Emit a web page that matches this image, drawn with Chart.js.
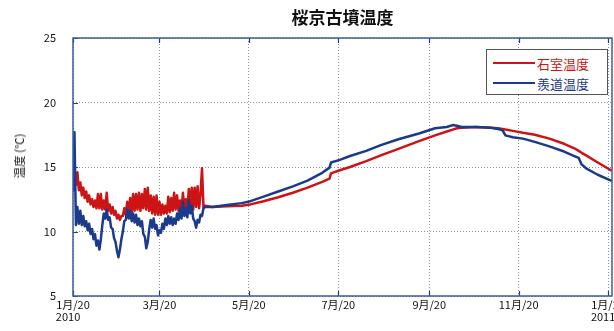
<!DOCTYPE html>
<html>
<head>
<meta charset="utf-8">
<script src="https://cdn.jsdelivr.net/npm/chart.js@4.4.1/dist/chart.umd.min.js"></script>
<style>
  html, body { margin: 0; padding: 0; background: #fff; }
  #wrap { position: relative; width: 614px; height: 331px; overflow: hidden; }
  canvas { display: block; }
  #ylabel {
    position: absolute; left: 19px; top: 156px;
    transform: translate(-50%, -50%) rotate(-90deg);
    font: 11.5px "Noto Sans CJK JP"; color: #111; white-space: nowrap;
  }
  #legend {
    position: absolute; left: 486px; top: 49px; width: 120px; height: 44px;
    border: 1px solid #555; background: #fff; font: 13px "Noto Sans CJK JP";
  }
  #legend .row { position: absolute; left: 6px; height: 16px; display: flex; align-items: center; }
  #legend .sw { width: 42px; height: 2px; margin-right: 2px; }
</style>
</head>
<body>
<div id="wrap">
  <canvas id="c" width="614" height="331"></canvas>
  <div id="ylabel">温度 (℃)</div>
  <div id="legend"></div>
</div>
<script>
// Daily readings, 2010-01-20 (day 0) to 2010-04-20 (day 90)
const noisyDays = [0,1,2,3,4,5,6,7,8,9,10,11,12,13,14,15,16,17,18,19,20,21,22,23,24,25,26,27,28,29,
  30,31,32,33,34,35,36,37,38,39,40,41,42,43,44,45,46,47,48,49,50,51,52,53,54,55,56,57,58,59,
  60,61,62,63,64,65,66,67,68,69,70,71,72,73,74,75,76,77,78,79,80,81,82,83,84,85,86,87,88,89,90];

const chamberNoisy = [13.2,14.9,13.6,14.6,13.2,13.8,12.8,13.4,12.6,13.1,12.3,12.8,12.1,12.5,11.9,12.4,11.8,12.9,11.8,12.9,
  11.7,12.4,11.7,13.0,11.6,12.1,11.4,11.9,11.3,11.6,11.0,11.3,10.9,11.2,11.2,11.8,11.3,12.3,11.5,12.6,
  11.4,12.9,11.6,12.9,11.7,13.0,11.6,12.9,11.8,13.3,11.7,13.4,11.6,12.8,11.4,12.7,11.3,12.8,11.3,12.3,
  11.3,12.1,11.4,12.0,11.4,12.7,11.5,12.6,11.6,13.0,11.7,12.8,11.6,12.4,11.7,13.0,11.8,12.5,11.7,13.3,
  11.8,13.4,11.7,13.4,11.9,13.5,11.8,12.9,14.9,11.9,12.0];

const passageNoisy = [13.2,17.7,10.5,11.9,10.6,11.6,10.5,11.2,10.4,10.8,10.1,10.6,9.8,10.2,9.4,9.8,8.9,9.3,8.6,9.4,
  10.5,11.4,11.0,11.7,10.9,11.1,10.3,10.2,9.5,9.2,8.5,8.0,8.6,9.4,10.0,10.8,10.9,11.7,11.0,11.6,
  10.8,11.4,10.7,11.3,10.5,11.0,10.4,10.8,9.8,9.6,8.7,9.2,10.2,10.9,10.3,11.0,10.2,10.5,9.7,10.1,
  9.9,10.6,10.2,11.0,10.5,11.2,10.6,11.1,10.5,11.0,10.6,11.4,10.9,11.8,11.0,12.3,11.2,11.8,11.1,12.4,
  11.4,12.0,11.0,10.8,10.3,10.9,10.7,11.3,11.2,11.8,11.9];

// Smoothed readings from late April onward
const smoothDays = [95,105,115,121,130,140,150,160,170,175,176,182,189,200,210,222,236,247,255,259,
  262,265,275,285,290,293,295,300,307,315,325,335,342,345,347,350,358,367];

const chamberSmooth = [11.9,11.95,12.0,12.1,12.35,12.65,13.0,13.4,13.85,14.1,14.5,14.75,15.0,15.45,15.9,16.4,17.0,17.45,17.75,17.9,
  18.0,18.05,18.1,18.05,18.0,17.95,17.9,17.8,17.65,17.5,17.2,16.8,16.45,16.25,16.1,15.9,15.35,14.75];

const passageSmooth = [11.9,12.05,12.2,12.35,12.7,13.1,13.5,13.95,14.55,14.95,15.35,15.55,15.85,16.25,16.7,17.15,17.6,18.0,18.1,18.25,
  18.2,18.1,18.1,18.05,17.95,17.85,17.45,17.3,17.2,16.95,16.6,16.2,15.85,15.7,15.2,14.9,14.4,13.95];

const seriesNames = ['石室温度', '羨道温度'];
const seriesColors = ['#cc1414', '#1a3a8c'];

const tickDays = [0, 59, 120, 181, 243, 304, 365];
const tickLabels = [['1月/20', '2010\u00a0\u00a0\u00a0\u00a0'], '3月/20', '5月/20', '7月/20', '9月/20', '11月/20',
  ['1月/20', '2011\u00a0\u00a0\u00a0\u00a0']];
const yTicks = [5, 10, 15, 20, 25];

function toPoints(days, vals) {
  return days.map((d, i) => ({ x: d, y: vals[i] }));
}

const frameColor = '#3a5ca0';
const gridColor = 'rgba(110,125,160,0.85)';

// Plot frame and short inward tick marks
const framePlugin = {
  id: 'frame',
  afterDatasetsDraw(chart) {
    const { ctx, chartArea: a, scales } = chart;
    ctx.save();
    ctx.strokeStyle = '#1d3f8a';
    ctx.lineWidth = 1.2;
    ctx.beginPath();
    scales.x.ticks.forEach(t => {
      const px = Math.round(scales.x.getPixelForValue(t.value)) + 0.5;
      ctx.moveTo(px, a.top); ctx.lineTo(px, a.top + 5);
      ctx.moveTo(px, a.bottom); ctx.lineTo(px, a.bottom - 5);
    });
    scales.y.ticks.forEach(t => {
      const py = Math.round(scales.y.getPixelForValue(t.value)) + 0.5;
      ctx.moveTo(a.left, py); ctx.lineTo(a.left + 5, py);
    });
    ctx.stroke();
    ctx.strokeStyle = frameColor;
    ctx.lineWidth = 1.5;
    ctx.strokeRect(a.left, a.top, a.right - a.left, a.bottom - a.top);
    ctx.restore();
  }
};

const lineStyle = {
  borderWidth: 2.5, pointRadius: 0, tension: 0, fill: false, borderJoinStyle: 'round', borderCapStyle: 'round'
};

new Chart(document.getElementById('c'), {
  type: 'line',
  data: {
    datasets: [
      Object.assign({ label: seriesNames[0], borderColor: seriesColors[0], order: 1,
        data: toPoints(noisyDays.concat(smoothDays), chamberNoisy.concat(chamberSmooth)) }, lineStyle),
      Object.assign({ label: seriesNames[1], borderColor: seriesColors[1], order: 0,
        data: toPoints(noisyDays.concat(smoothDays), passageNoisy.concat(passageSmooth)) }, lineStyle)
    ]
  },
  options: {
    responsive: false,
    animation: false,
    layout: { padding: { left: 0, right: 2, top: 0, bottom: 0 } },
    plugins: {
      legend: { display: false },
      tooltip: { enabled: false },
      title: {
        display: true, text: '桜京古墳温度', fullSize: false, color: '#111',
        font: { family: '"Noto Sans CJK JP"', size: 17, weight: 'bold', lineHeight: 1.2 },
        padding: { top: 7, bottom: 10.6 }
      }
    },
    scales: {
      x: {
        type: 'linear', min: 0, max: 367.7,
        afterBuildTicks(axis) { axis.ticks = tickDays.map(v => ({ value: v })); },
        afterFit(axis) { axis.height = 35; axis.paddingLeft = 0; axis.paddingRight = 0; },
        ticks: {
          autoSkip: false, maxRotation: 0, minRotation: 0, padding: 3, color: '#111',
          font: { family: '"Noto Sans CJK JP"', size: 11, lineHeight: 1.05 },
          callback(v) { const i = tickDays.indexOf(v); return i >= 0 ? tickLabels[i] : ''; }
        },
        grid: { color: gridColor, lineWidth: 1, drawTicks: false },
        border: { display: false, dash: [1, 2] }
      },
      y: {
        min: 5, max: 25,
        afterBuildTicks(axis) { axis.ticks = yTicks.map(v => ({ value: v })); },
        afterFit(axis) { axis.width = 73; axis.paddingTop = 0; axis.paddingBottom = 0; },
        ticks: {
          padding: 17, color: '#111',
          font: { family: '"Noto Sans CJK JP"', size: 11 }
        },
        grid: { color: gridColor, lineWidth: 1, drawTicks: false },
        border: { display: false, dash: [1, 2] }
      }
    }
  },
  plugins: [framePlugin]
});

// Legend box inside the plot
const legend = document.getElementById('legend');
seriesNames.forEach((name, i) => {
  const row = document.createElement('div');
  row.className = 'row';
  row.style.top = (5 + i * 20) + 'px';
  row.style.color = seriesColors[i];
  const sw = document.createElement('span');
  sw.className = 'sw';
  sw.style.background = seriesColors[i];
  const tx = document.createElement('span');
  tx.textContent = name;
  row.appendChild(sw); row.appendChild(tx);
  legend.appendChild(row);
});
</script>
</body>
</html>
